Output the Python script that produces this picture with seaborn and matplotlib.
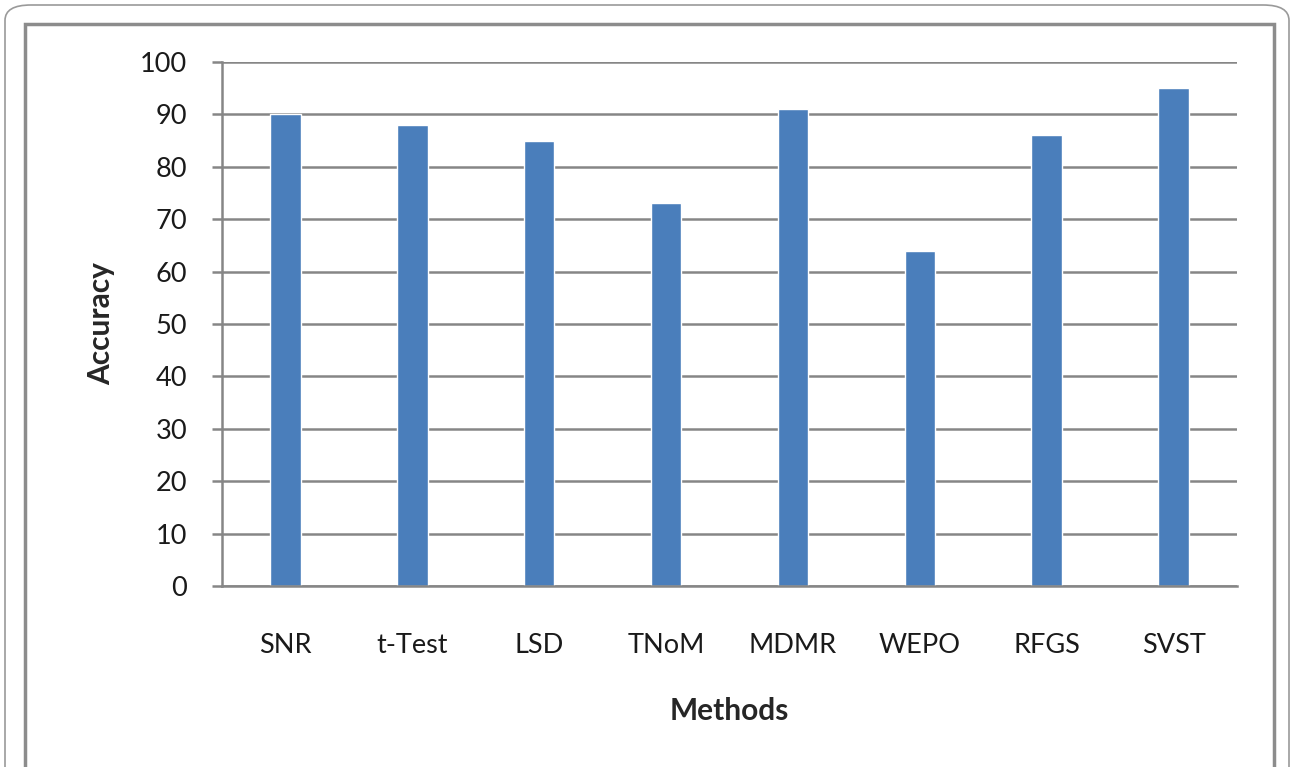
import matplotlib.pyplot as plt
import seaborn as sns
from matplotlib.patches import FancyBboxPatch, Rectangle

methods = ['SNR', 't-Test', 'LSD', 'TNoM', 'MDMR', 'WEPO', 'RFGS', 'SVST']
accuracy = [90, 88, 85, 73, 91, 64, 86, 95]
y_ticks = list(range(0, 101, 10))

sns.set_style('white')
plt.rcParams['font.family'] = ['Lato', 'DejaVu Sans']

fig = plt.figure(figsize=(12.94, 7.67), dpi=100)
W, H = 1294, 767

# outer rounded frame and inner chart frame (Excel-style)
fig.patches.append(FancyBboxPatch((5 / W, -0.1), 1284 / W, 1.1 - 5 / H,
                                  boxstyle='round,pad=0,rounding_size=0.02',
                                  transform=fig.transFigure, fill=False,
                                  edgecolor='#9a9a9a', lw=1.2))
fig.patches.append(Rectangle((25 / W, -0.1), 1249 / W, 1.1 - 24 / H,
                             transform=fig.transFigure, fill=False,
                             edgecolor='#8c8c8c', lw=2.5))

ax = fig.add_axes([222 / W, 1 - 586 / H, (1237 - 222) / W, (586 - 62) / H])
sns.barplot(x=methods, y=accuracy, color='#4A7EBB', width=0.24,
            saturation=1, ax=ax)

ax.set_ylim(0, 100)
ax.set_yticks(y_ticks)
ax.set_xlim(-0.5, len(methods) - 0.5)
ax.set_axisbelow(True)
ax.yaxis.grid(True, color='#868686', lw=1.8)
for s in ['top', 'right']:
    ax.spines[s].set_visible(False)
for s in ['left', 'bottom']:
    ax.spines[s].set_color('#868686')
    ax.spines[s].set_linewidth(1.8)

ax.tick_params(axis='y', length=7, width=1.8, color='#868686', pad=18,
               labelsize=19.5, left=True, labelcolor='#1a1a1a')
ax.tick_params(axis='x', length=0, pad=34, labelsize=19.5, labelcolor='#1a1a1a')

ax.set_xlabel('Methods', fontsize=21.5, fontweight='bold', labelpad=28)
ax.set_ylabel('Accuracy', fontsize=21.5, fontweight='bold', labelpad=18)

fig.savefig('out.png', dpi=100)
